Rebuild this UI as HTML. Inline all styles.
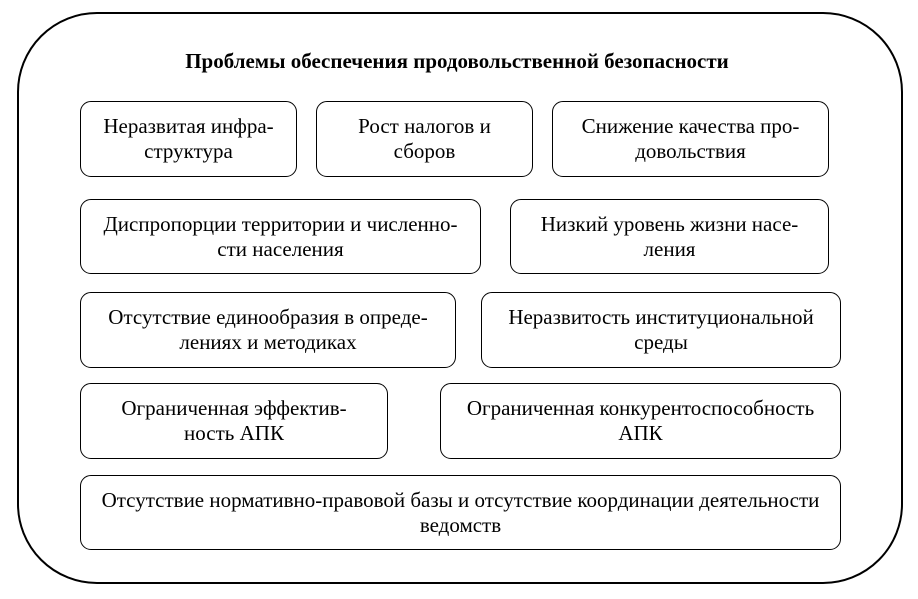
<!DOCTYPE html>
<html><head><meta charset="utf-8"><style>
body{margin:0;width:918px;height:599px;background:#fff;position:relative;font-family:"Liberation Serif",serif;overflow:hidden}
.o{position:absolute;left:17px;top:12px;width:886px;height:572px;border:2px solid #000;border-radius:80px;box-sizing:border-box}
.t{position:absolute;left:0;width:914px;top:49px;text-align:center;font-weight:bold;font-size:21px}
.b{position:absolute;border:1.5px solid #000;border-radius:11px;box-sizing:border-box;display:flex;align-items:center;justify-content:center;text-align:center;font-size:21px;line-height:25px;padding:0 4px;white-space:nowrap}
</style></head><body>
<div class="o"></div>
<div class="t">Проблемы обеспечения продовольственной безопасности</div>
<div class="b" style="left:80px;top:101px;width:217px;height:76px">Неразвитая инфра-<br>структура</div>
<div class="b" style="left:316px;top:101px;width:217px;height:76px">Рост налогов и<br>сборов</div>
<div class="b" style="left:552px;top:101px;width:277px;height:76px">Снижение качества про-<br>довольствия</div>
<div class="b" style="left:80px;top:199px;width:401px;height:75px">Диспропорции территории и численно-<br>сти населения</div>
<div class="b" style="left:510px;top:199px;width:319px;height:75px">Низкий уровень жизни насе-<br>ления</div>
<div class="b" style="left:80px;top:292px;width:376px;height:76px">Отсутствие единообразия в опреде-<br>лениях и методиках</div>
<div class="b" style="left:481px;top:292px;width:360px;height:76px">Неразвитость институциональной<br>среды</div>
<div class="b" style="left:80px;top:383px;width:308px;height:76px">Ограниченная эффектив-<br>ность АПК</div>
<div class="b" style="left:440px;top:383px;width:401px;height:76px">Ограниченная конкурентоспособность<br>АПК</div>
<div class="b" style="left:80px;top:475px;width:761px;height:75px">Отсутствие нормативно-правовой базы и отсутствие координации деятельности<br>ведомств</div>
</body></html>
